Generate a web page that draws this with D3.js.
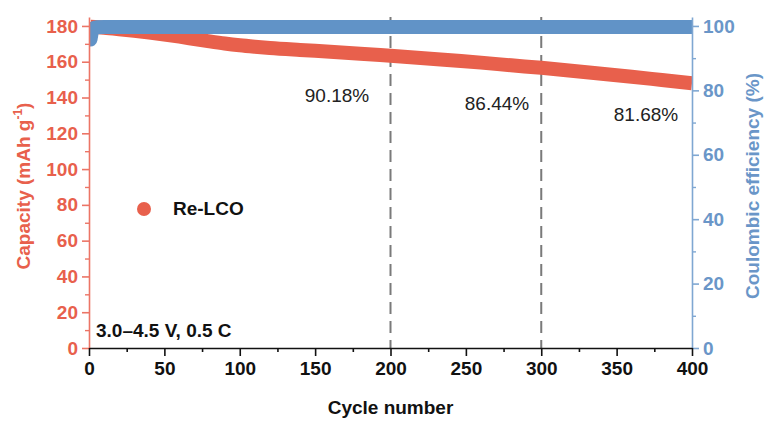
<!DOCTYPE html>
<html>
<head>
<meta charset="utf-8">
<script src="https://cdn.jsdelivr.net/npm/d3@7"></script>
<style>
  body { margin: 0; background: #fff; }
  svg { display: block; font-family: Arial, "Liberation Sans", sans-serif; }
</style>
</head>
<body>
<svg id="chart" width="764" height="423"></svg>
<script>
// Capacity retention of Re-LCO, 3.0–4.5 V at 0.5 C
const capCycles = [1, 10, 20, 30, 40, 50, 60, 70, 80, 90, 100, 110, 120, 140, 160, 180,
                   200, 220, 240, 260, 280, 300, 320, 340, 360, 380, 400];
const capValues = [179.5, 179, 178.2, 177.3, 176.3, 175.2, 174, 172.7, 171.4, 170.2, 169.2, 168.4, 167.7, 166.6, 165.6, 164.5,
                   163.3, 162.1, 160.8, 159.5, 158, 156.6, 155, 153.3, 151.6, 149.8, 148];

const ceCycles = [1, 2, 3, 5, 10, 50, 100, 150, 200, 250, 300, 350, 400];
const ceValues = [95.8, 98.3, 99.3, 99.6, 99.7, 99.7, 99.7, 99.7, 99.7, 99.7, 99.7, 99.7, 99.7];

const markCycles = [200, 300];
const retentionLabels = ["90.18%", "86.44%", "81.68%"];

const xTicks = [0, 50, 100, 150, 200, 250, 300, 350, 400];
const capTicks = [0, 20, 40, 60, 80, 100, 120, 140, 160, 180];
const ceTicks = [0, 20, 40, 60, 80, 100];

const RED = "#E8604C", RED_AXIS = "#EC7566";
const BLUE = "#6193C7", BLUE_AXIS = "#7FA7D2", BLUE_TEXT = "#6A96C8";

const svg = d3.select("#chart");
const m = { left: 89, right: 692, top: 17, bottom: 348 };

const x = d3.scaleLinear().domain([0, 400]).range([m.left, m.right]);
const yCap = d3.scaleLinear().domain([0, 185]).range([m.bottom, m.top]);
const yCe = d3.scaleLinear().domain([0, 185 / 180 * 100]).range([m.bottom, m.top]);

svg.append("defs").append("clipPath").attr("id", "plot")
  .append("rect")
  .attr("x", m.left).attr("y", 0)
  .attr("width", m.right - m.left + 1).attr("height", m.bottom);

// Dashed markers at cycle 200 and 300
svg.append("g").selectAll("line").data(markCycles).join("line")
  .attr("x1", d => x(d)).attr("x2", d => x(d))
  .attr("y1", m.top).attr("y2", m.bottom)
  .attr("stroke", "#7a7a7a").attr("stroke-width", 2)
  .attr("stroke-dasharray", "12,7");

const plot = svg.append("g").attr("clip-path", "url(#plot)");

const capLine = d3.line().x((d, i) => x(capCycles[i])).y(d => yCap(d)).curve(d3.curveMonotoneX);
plot.append("path")
  .attr("d", capLine(capValues))
  .attr("fill", "none").attr("stroke", RED)
  .attr("stroke-width", 14).attr("stroke-linecap", "butt");

const ceLine = d3.line().x((d, i) => x(ceCycles[i])).y(d => yCe(d)).curve(d3.curveMonotoneX);
plot.append("path")
  .attr("d", ceLine(ceValues))
  .attr("fill", "none").attr("stroke", BLUE)
  .attr("stroke-width", 14).attr("stroke-linecap", "round");

// Axes
const styleAxis = (g, color) => {
  g.select(".domain").attr("stroke", color).attr("stroke-width", 1.6);
  g.selectAll(".tick line").attr("stroke", color).attr("stroke-width", 1.6);
  g.selectAll(".tick text").attr("fill", color)
    .attr("font-size", 19).attr("font-weight", "bold")
    .attr("font-family", "Arial, 'Liberation Sans', sans-serif");
};

// left minor + major
svg.append("g").attr("transform", `translate(${m.left},0)`)
  .call(d3.axisLeft(yCap).tickValues(d3.range(10, 185, 20)).tickSize(4).tickFormat(""))
  .call(g => { g.select(".domain").remove(); g.selectAll("line").attr("stroke", RED_AXIS).attr("stroke-width", 1.4); });
svg.append("g").attr("transform", `translate(${m.left},0)`)
  .call(d3.axisLeft(yCap).tickValues(capTicks).tickSize(7).tickPadding(4).tickSizeOuter(0))
  .call(g => styleAxis(g, RED_AXIS))
  .call(g => g.selectAll(".tick text").attr("fill", RED));

// right minor + major
svg.append("g").attr("transform", `translate(${m.right},0)`)
  .call(d3.axisRight(yCe).tickValues(d3.range(10, 100, 20)).tickSize(4).tickFormat(""))
  .call(g => { g.select(".domain").remove(); g.selectAll("line").attr("stroke", BLUE_AXIS).attr("stroke-width", 1.4); });
svg.append("g").attr("transform", `translate(${m.right},0)`)
  .call(d3.axisRight(yCe).tickValues(ceTicks).tickSize(7).tickPadding(4).tickSizeOuter(0))
  .call(g => styleAxis(g, BLUE_AXIS))
  .call(g => g.selectAll(".tick text").attr("fill", BLUE_TEXT));

// bottom minor + major
svg.append("g").attr("transform", `translate(0,${m.bottom})`)
  .call(d3.axisBottom(x).tickValues(d3.range(25, 400, 50)).tickSize(4).tickFormat(""))
  .call(g => { g.select(".domain").remove(); g.selectAll("line").attr("stroke", "#111").attr("stroke-width", 1.6); });
svg.append("g").attr("transform", `translate(0,${m.bottom})`)
  .call(d3.axisBottom(x).tickValues(xTicks).tickSize(8).tickPadding(6).tickSizeOuter(0))
  .call(g => styleAxis(g, "#111"));

// Axis titles
svg.append("text")
  .attr("x", x(200)).attr("y", 414)
  .attr("text-anchor", "middle").attr("font-size", 19).attr("font-weight", "bold").attr("fill", "#111")
  .text("Cycle number");

const capTitle = svg.append("text")
  .attr("transform", "translate(30,186) rotate(-90)")
  .attr("text-anchor", "middle").attr("font-size", 19).attr("font-weight", "bold").attr("fill", RED);
capTitle.append("tspan").text("Capacity (mAh g");
capTitle.append("tspan").attr("font-size", 12).attr("dy", -8).text("-1");
capTitle.append("tspan").attr("dy", 8).text(")");

svg.append("text")
  .attr("transform", "translate(759,186) rotate(-90)")
  .attr("text-anchor", "middle").attr("font-size", 19).attr("font-weight", "bold").attr("fill", BLUE_TEXT)
  .text("Coulombic efficiency (%)");

// Retention labels
const labelPos = [[337, 102], [497, 110], [646, 121]];
svg.append("g").selectAll("text").data(retentionLabels).join("text")
  .attr("x", (d, i) => labelPos[i][0]).attr("y", (d, i) => labelPos[i][1])
  .attr("text-anchor", "middle").attr("font-size", 19).attr("fill", "#222")
  .text(d => d);

// Legend
svg.append("circle").attr("cx", 144).attr("cy", 209).attr("r", 7).attr("fill", RED);
svg.append("text").attr("x", 173).attr("y", 215)
  .attr("font-size", 19).attr("font-weight", "bold").attr("fill", "#111")
  .text("Re-LCO");

svg.append("text").attr("x", 96).attr("y", 337)
  .attr("font-size", 19).attr("font-weight", "bold").attr("fill", "#111")
  .text("3.0–4.5 V, 0.5 C");
</script>
</body>
</html>
